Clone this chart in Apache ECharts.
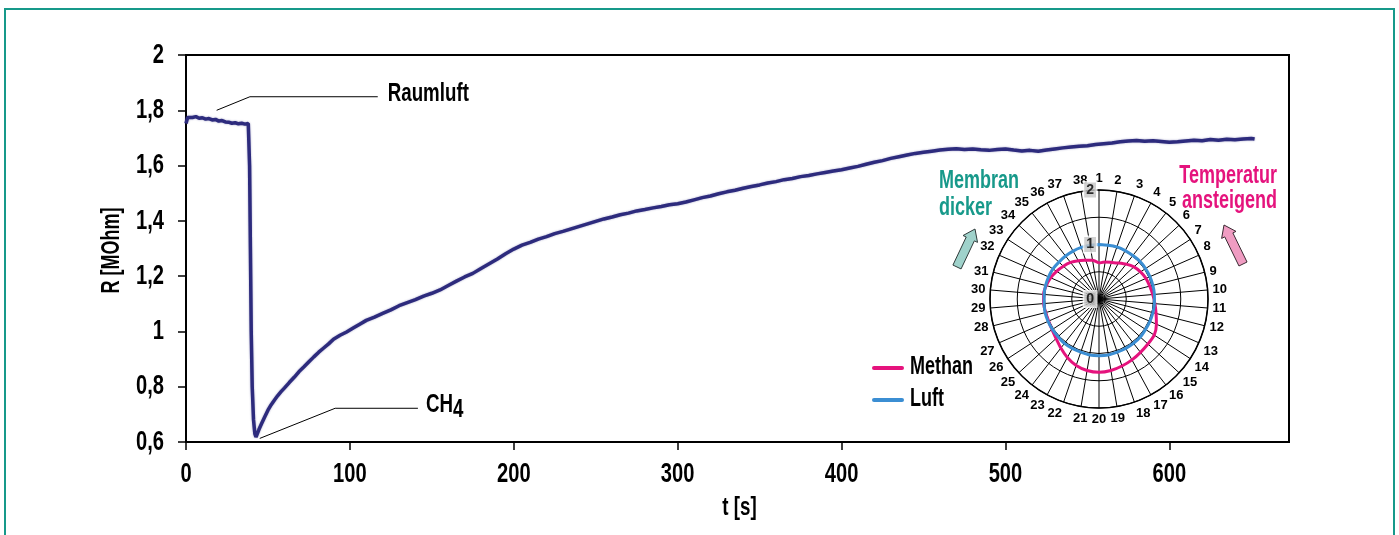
<!DOCTYPE html>
<html>
<head>
<meta charset="utf-8">
<title>Widerstandsverlauf Gassensor</title>
<script src="https://cdn.jsdelivr.net/npm/echarts@6/dist/echarts.min.js"></script>
<style>
  html, body { margin: 0; padding: 0; background: #fff; }
  #chart { width: 1399px; height: 535px; }
</style>
</head>
<body>
<div id="chart"></div>
<script>
// Sensor response: resistance R [MOhm] over time t [s]
const tSec = [
  0, 1, 2, 4, 6, 8, 10, 12, 14, 16, 18, 20, 22, 24, 26, 28, 30, 32, 34, 36, 38,
  38.8, 39.3, 39.8, 40.4, 41.2, 42, 42.7, 43.5, 44.5,
  46, 48, 50, 52, 54, 56, 58, 60, 63, 66, 69, 72, 75, 78, 81, 84, 87, 90, 94, 98,
  102, 106, 110, 115, 120, 125, 130, 135, 140, 145, 150, 155, 160, 165, 170, 175,
  180, 185, 190, 195, 200, 205, 210, 215, 220, 225, 230, 235, 240, 245, 250, 255,
  260, 265, 270, 275, 280, 285, 290, 295, 300, 305, 310, 315, 320, 325, 330, 335,
  340, 345, 350, 355, 360, 365, 370, 375, 380, 385, 390, 395, 400, 405, 410, 415,
  420, 425, 430, 435, 440, 445, 450, 455, 460, 465, 470, 475, 480, 485, 490, 495,
  500, 505, 510, 515, 520, 525, 530, 535, 540, 545, 550, 555, 560, 565, 570, 575,
  580, 585, 590, 595, 600, 605, 610, 615, 620, 625, 630, 635, 640, 645, 650, 652
];
const rMOhm = [
  1.752, 1.774, 1.778, 1.774, 1.777, 1.771, 1.773, 1.768, 1.770, 1.765, 1.767, 1.761, 1.763, 1.758, 1.757, 1.753, 1.755, 1.751, 1.753, 1.750, 1.752,
  1.600, 1.300, 1.000, 0.800, 0.680, 0.630, 0.618, 0.625, 0.645,
  0.665, 0.690, 0.715, 0.735, 0.752, 0.768, 0.782, 0.795, 0.815, 0.834, 0.855, 0.872, 0.890, 0.908, 0.925, 0.940, 0.955, 0.972, 0.986, 0.998,
  1.012, 1.026, 1.040, 1.052, 1.065, 1.078, 1.093, 1.104, 1.115, 1.128, 1.138, 1.150, 1.166, 1.182, 1.197, 1.210,
  1.228, 1.245, 1.262, 1.281, 1.298, 1.312, 1.322, 1.334, 1.343, 1.354, 1.362, 1.371, 1.380, 1.389, 1.398, 1.407,
  1.414, 1.422, 1.428, 1.436, 1.441, 1.447, 1.452, 1.458, 1.462, 1.468, 1.476, 1.484, 1.490, 1.498, 1.505, 1.511,
  1.518, 1.524, 1.530, 1.537, 1.542, 1.549, 1.553, 1.560, 1.564, 1.570, 1.575, 1.580, 1.585, 1.591, 1.597, 1.605,
  1.612, 1.618, 1.626, 1.632, 1.638, 1.644, 1.648, 1.652, 1.656, 1.659, 1.661, 1.658, 1.660, 1.657, 1.655, 1.658,
  1.660, 1.656, 1.653, 1.655, 1.652, 1.656, 1.660, 1.664, 1.667, 1.670, 1.672, 1.676, 1.679, 1.682, 1.686, 1.689,
  1.691, 1.688, 1.690, 1.687, 1.684, 1.686, 1.689, 1.692, 1.690, 1.694, 1.692, 1.695, 1.693, 1.696, 1.698, 1.696
];

// Axis ticks
const xTicks = [0, 100, 200, 300, 400, 500, 600];
const yTicks = [0.6, 0.8, 1.0, 1.2, 1.4, 1.6, 1.8, 2.0];

// Polar inset: 38 sensor elements, relative response
const spokeLabels = ['1','2','3','4','5','6','7','8','9','10','11','12','13','14','15','16','17','18','19',
  '20','21','22','23','24','25','26','27','28','29','30','31','32','33','34','35','36','37','38'];
const methan = [0.66, 0.69, 0.71, 0.75, 0.81, 0.87, 0.91, 0.94, 0.96, 0.99, 1.03, 1.08, 1.15, 1.21, 1.22, 1.24, 1.27, 1.30, 1.33,
  1.345, 1.33, 1.29, 1.22, 1.14, 1.07, 1.03, 1.01, 1.01, 1.02, 1.02, 1.00, 0.97, 0.93, 0.89, 0.85, 0.80, 0.75, 0.72];
const luft = [1.00, 1.00, 1.01, 1.01, 1.01, 1.02, 1.02, 1.02, 1.02, 1.02, 1.02, 1.02, 1.02, 1.02, 1.03, 1.03, 1.03, 1.03, 1.04,
  1.04, 1.04, 1.03, 1.03, 1.03, 1.02, 1.02, 1.02, 1.02, 1.01, 1.01, 1.01, 1.01, 1.01, 1.00, 1.00, 1.00, 1.00, 1.00];
const ringLabels = [0, 1, 2];

// Leader lines for the annotations, in data units (t, R)
const raumluftLeader = [[18.7, 1.800], [39, 1.849], [117, 1.849]];
const ch4Leader = [[45, 0.613], [91, 0.722], [141.5, 0.722]];

const FONT = "'Liberation Sans', Arial, sans-serif";
const SQUEEZE = 0.72;          // horizontal compression for the condensed headline type
const TEAL = '#17998a';
const MAGENTA = '#e5137d';
const BLUE = '#3b8ed3';
const CURVE = '#2d2b7d';

// closes a polar trace by repeating its first value at the full turn
const closeLoop = arr => arr.map((r, i) => [r, i]).concat([[arr[0], arr.length]]);

// outlined block arrow from base to tip
function arrowPoints(bx, by, tx, ty, shaft, head, headLen) {
  const dx = tx - bx, dy = ty - by, len = Math.hypot(dx, dy);
  const ux = dx / len, uy = dy / len, px = -uy, py = ux;
  const hx = tx - ux * headLen, hy = ty - uy * headLen;
  return [
    [bx + px * shaft, by + py * shaft],
    [hx + px * shaft, hy + py * shaft],
    [hx + px * head, hy + py * head],
    [tx, ty],
    [hx - px * head, hy - py * head],
    [hx - px * shaft, hy - py * shaft],
    [bx - px * shaft, by - py * shaft]
  ];
}

// condensed bold text element
function label(text, x, y, size, opts = {}) {
  return {
    type: 'text', silent: true, x, y, scaleX: SQUEEZE, rotation: opts.rotation || 0, z: 50,
    style: {
      text, font: `bold ${size}px ${FONT}`, fill: opts.color || '#000',
      align: opts.align || 'center', verticalAlign: 'middle', rich: opts.rich
    }
  };
}

const chart = echarts.init(document.getElementById('chart'), null, { renderer: 'canvas' });
const polarText = { fontFamily: FONT, fontWeight: 'bold', color: '#000', fontSize: 13 };

chart.setOption({
  animation: false,
  backgroundColor: '#fff',
  grid: {
    left: 186, right: 110, top: 55, bottom: 93,
    show: true, borderColor: '#000', borderWidth: 2, backgroundColor: 'transparent'
  },
  xAxis: {
    type: 'value', min: 0, max: 673,
    axisLine: { show: true, lineStyle: { color: '#000', width: 2 } },
    axisTick: { show: true, customValues: xTicks, length: 8, lineStyle: { color: '#000', width: 1.5 } },
    axisLabel: { show: false },
    splitLine: { show: false }
  },
  yAxis: {
    type: 'value', min: 0.6, max: 2.0, interval: 0.2,
    axisLine: { show: true, lineStyle: { color: '#000', width: 2 } },
    axisTick: { show: true, length: 8, lineStyle: { color: '#000', width: 1.5 } },
    axisLabel: { show: false },
    splitLine: { show: false }
  },
  polar: { center: [1099, 299], radius: 109 },
  angleAxis: {
    type: 'value', min: 0, max: spokeLabels.length, interval: 1,
    startAngle: 90, clockwise: true,
    axisLine: { show: true, lineStyle: { color: '#000', width: 1.5 } },
    axisTick: { show: false },
    axisLabel: {
      margin: 5, ...polarText,
      formatter: v => spokeLabels[v] !== undefined ? spokeLabels[v] : ''
    },
    splitLine: { show: true, lineStyle: { color: '#000', width: 1 } }
  },
  radiusAxis: {
    min: 0, max: 2, interval: 0.5,
    axisLine: { show: false }, axisTick: { show: false }, axisLabel: { show: false },
    splitLine: { show: true, lineStyle: { color: '#000', width: 1 } }
  },
  series: [
    {
      name: 'R', type: 'line', data: tSec.map((t, i) => [t, rMOhm[i]]),
      showSymbol: false, z: 3,
      lineStyle: { color: CURVE, width: 3.5, shadowBlur: 2, shadowColor: 'rgba(45,43,125,0.45)' }
    },
    {
      name: 'RaumluftLeader', type: 'line', data: raumluftLeader, showSymbol: false, silent: true,
      lineStyle: { color: '#000', width: 1 }
    },
    {
      name: 'CH4Leader', type: 'line', data: ch4Leader, showSymbol: false, silent: true,
      lineStyle: { color: '#000', width: 1 }
    },
    {
      name: 'Methan', type: 'line', coordinateSystem: 'polar', data: closeLoop(methan),
      showSymbol: false, smooth: 0.2, z: 4, color: MAGENTA,
      lineStyle: { color: MAGENTA, width: 3 }
    },
    {
      name: 'Luft', type: 'line', coordinateSystem: 'polar', data: closeLoop(luft),
      showSymbol: false, smooth: 0.2, z: 4, color: BLUE,
      lineStyle: { color: BLUE, width: 3 }
    },
    {
      name: 'Ringe', type: 'scatter', coordinateSystem: 'polar', silent: true, z: 6,
      data: ringLabels.map(r => [r, 0]), symbolSize: 0,
      label: {
        show: true, position: 'left', distance: 3,
        formatter: p => String(p.value[0]),
        ...polarText, fontSize: 14,
        backgroundColor: '#c6c6c6', padding: [1, 2, 0, 2],
        borderColor: '#fff', borderWidth: 1.5
      }
    }
  ]
});

// Texts set in condensed type, anchored through the chart's own scales
const toX = v => chart.convertToPixel({ xAxisIndex: 0 }, v);
const toY = v => chart.convertToPixel({ yAxisIndex: 0 }, v);
const toXY = p => chart.convertToPixel({ gridIndex: 0 }, p);
const gridLeft = toX(0), gridBottom = toY(0.6);

const texts = [];
xTicks.forEach(v => texts.push(label(String(v), toX(v), gridBottom + 32, 28)));
yTicks.forEach(v => texts.push(label(String(+v.toFixed(1)).replace('.', ','), gridLeft - 22, toY(v), 28, { align: 'right' })));
texts.push(label('t [s]', (gridLeft + toX(673)) / 2 + 2, gridBottom + 66, 26));
texts.push(label('R [MOhm]', gridLeft - 74, (toY(2) + gridBottom) / 2 + 2, 25, { rotation: Math.PI / 2 }));

const rEnd = toXY(raumluftLeader[raumluftLeader.length - 1]);
texts.push(label('Raumluft', rEnd[0] + 10, rEnd[1] - 3, 26, { align: 'left' }));
const cEnd = toXY(ch4Leader[ch4Leader.length - 1]);
texts.push(label('{a|CH}{b|4}', cEnd[0] + 8, cEnd[1] - 3, 26, {
  align: 'left',
  rich: { a: { font: `bold 26px ${FONT}` }, b: { font: `bold 26px ${FONT}`, padding: [10, 0, 0, 0] } }
}));

// legend for the polar traces
const legendItems = [{ name: 'Methan', color: MAGENTA, y: 368 }, { name: 'Luft', color: BLUE, y: 400 }];
legendItems.forEach(it => {
  texts.push({
    type: 'line', silent: true, z: 50,
    shape: { x1: 874, y1: it.y, x2: 902, y2: it.y },
    style: { stroke: it.color, lineWidth: 4, lineCap: 'round' }
  });
  texts.push(label(it.name, 910, it.y - 1, 25, { align: 'left' }));
});

texts.push(label('Membran', 939, 181, 25, { align: 'left', color: TEAL }));
texts.push(label('dicker', 939, 208, 25, { align: 'left', color: TEAL }));
texts.push(label('Temperatur', 1277, 176, 25, { align: 'right', color: MAGENTA }));
texts.push(label('ansteigend', 1277, 201, 25, { align: 'right', color: MAGENTA }));

chart.setOption({
  graphic: [
    {
      type: 'rect', silent: true, z: 100,
      shape: { x: 5, y: 9, width: 1389, height: 540 },
      style: { fill: 'none', stroke: TEAL, lineWidth: 2 }
    },
    {
      type: 'polygon', silent: true,
      shape: { points: arrowPoints(957, 267, 975, 229, 4.5, 8, 11) },
      style: { fill: '#9fd2cb', stroke: '#2f3b3a', lineWidth: 1 }
    },
    {
      type: 'polygon', silent: true,
      shape: { points: arrowPoints(1243, 264, 1224, 225, 4.5, 8, 11) },
      style: { fill: '#f09cc2', stroke: '#3a2a32', lineWidth: 1 }
    },
    ...texts
  ]
});
</script>
</body>
</html>
